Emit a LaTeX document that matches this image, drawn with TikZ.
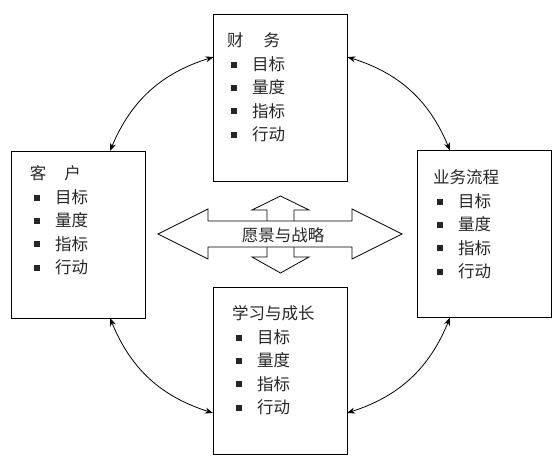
\documentclass[tikz,border=0pt]{standalone}
\usepackage{fontspec}
\setmainfont{Noto Sans CJK SC}
\usetikzlibrary{arrows.meta}
\newcommand\sqbul{\rule[2.7pt]{6pt}{6pt}\hspace{15pt}}
% #1 name, #2 title x, #3 title baseline y, #4 title
\newcommand\paneltext[4]{%
  \node[txt] (#1t) at (#2,#3) {#4};
  \foreach \k/\w in {1/目标,2/量度,3/指标,4/行动} {
    \node[txt] (#1\k) at (#2+4, #3+1.2+23.3*\k) {\sqbul\w};
  }
}
\begin{document}
\begin{tikzpicture}[x=1pt,y=-1pt,
  panel/.style={draw, line width=1pt, inner sep=0pt, outer sep=0pt, minimum width=134pt, minimum height=167pt},
  txt/.style={inner sep=0pt, outer sep=0pt, anchor=base west, font=\fontsize{16.5}{20}\selectfont, text=black!85},
  link/.style={{Stealth[length=8pt,width=6pt]}-{Stealth[length=8pt,width=6pt]}, line width=0.8pt, bend left=25},
  bigarrow/.style={draw, line width=0.8pt, fill=white}]
\useasboundingbox (0,0) rectangle (560,466);

% panels
\node[panel] (T) at (280.5,97.5) {};
\node[panel] (L) at (78,234.5) {};
\node[panel] (R) at (484,234) {};
\node[panel] (B) at (280,370.5) {};

\paneltext{Tx}{227}{46}{财\hspace{20pt}务}
\paneltext{Lx}{30}{179}{客\hspace{18pt}户}
\paneltext{Rx}{433}{183}{业务流程}
\paneltext{Bx}{232}{319}{学习与成长}

% connectors
\coordinate (LT1) at ([xshift=32pt]L.north);
\coordinate (LT2) at ([yshift=-43pt]T.north west);
\coordinate (TR1) at ([yshift=-43pt]T.north east);
\coordinate (TR2) at ([xshift=-34pt]R.north);
\coordinate (RB1) at ([xshift=-34pt]R.south);
\coordinate (RB2) at ([yshift=41pt]B.south east);
\coordinate (BL1) at ([yshift=41pt]B.south west);
\coordinate (BL2) at ([xshift=32pt]L.south);
\draw[link] (LT1) to (LT2);
\draw[link] (TR1) to (TR2);
\draw[link] (RB1) to (RB2);
\draw[link] (BL1) to (BL2);

% central arrows
\draw[bigarrow] (280.5,196) -- (309,210) -- (294,210) -- (294,257) -- (309,257) -- (280.5,273)
  -- (252,257) -- (267,257) -- (267,210) -- (252,210) -- cycle;
\draw[bigarrow] (158,234) -- (208,209) -- (208,221) -- (352,221) -- (352,209) -- (402,234)
  -- (352,259) -- (352,247) -- (208,247) -- (208,259) -- cycle;
\node[txt, anchor=center] (C) at (283,235) {愿景与战略};
\end{tikzpicture}
\end{document}
